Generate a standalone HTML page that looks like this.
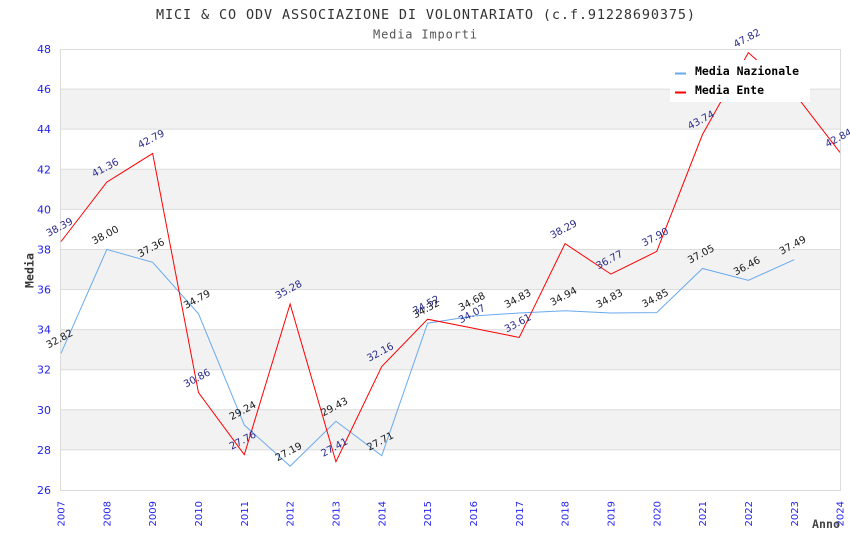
<!DOCTYPE html>
<html>
<head>
<meta charset="utf-8">
<style>
html,body{margin:0;padding:0;background:#fff;}
svg{display:block;}
.tk{font-family:"DejaVu Sans","Liberation Sans",sans-serif;font-size:11px;fill:#2323ee;}
.xk{font-family:"DejaVu Sans","Liberation Sans",sans-serif;font-size:10px;fill:#2323ee;}
.lb{font-family:"DejaVu Sans","Liberation Sans",sans-serif;font-size:10px;fill:#1a1a1a;}
.lr{font-family:"DejaVu Sans","Liberation Sans",sans-serif;font-size:10px;fill:#2a2a8c;}
.mono{font-family:"DejaVu Sans Mono","Liberation Mono",monospace;}
</style>
</head>
<body>
<svg width="850" height="550" viewBox="0 0 850 550" xmlns="http://www.w3.org/2000/svg">
<rect x="0" y="0" width="850" height="550" fill="#fff"/>
<!-- title -->
<text class="mono" x="156" y="19" font-size="13.5" fill="#333" textLength="539" lengthAdjust="spacing">MICI &amp; CO ODV ASSOCIAZIONE DI VOLONTARIATO (c.f.91228690375)</text>
<text class="mono" x="373" y="38.5" font-size="12" fill="#555" textLength="104" lengthAdjust="spacing">Media Importi</text>

<!-- bands -->
<g fill="#f2f2f2">
<rect x="61" y="89.09" width="779" height="40.09"/>
<rect x="61" y="169.27" width="779" height="40.09"/>
<rect x="61" y="249.45" width="779" height="40.09"/>
<rect x="61" y="329.63" width="779" height="40.09"/>
<rect x="61" y="409.81" width="779" height="40.09"/>
</g>
<!-- grid -->
<g stroke="#dcdcdc" stroke-width="1">
<line x1="61" y1="49.5" x2="840" y2="49.5"/>
<line x1="61" y1="89.09" x2="840" y2="89.09"/>
<line x1="61" y1="129.18" x2="840" y2="129.18"/>
<line x1="61" y1="169.27" x2="840" y2="169.27"/>
<line x1="61" y1="209.36" x2="840" y2="209.36"/>
<line x1="61" y1="249.45" x2="840" y2="249.45"/>
<line x1="61" y1="289.54" x2="840" y2="289.54"/>
<line x1="61" y1="329.63" x2="840" y2="329.63"/>
<line x1="61" y1="369.72" x2="840" y2="369.72"/>
<line x1="61" y1="409.81" x2="840" y2="409.81"/>
<line x1="61" y1="449.9" x2="840" y2="449.9"/>
<line x1="61" y1="490.5" x2="840" y2="490.5"/>
<line x1="60.5" y1="49" x2="60.5" y2="491"/>
<line x1="840.5" y1="49" x2="840.5" y2="491"/>
</g>

<!-- y ticks -->
<g class="tk" text-anchor="end">
<text x="51" y="53">48</text>
<text x="51" y="93.1">46</text>
<text x="51" y="133.2">44</text>
<text x="51" y="173.3">42</text>
<text x="51" y="213.4">40</text>
<text x="51" y="253.5">38</text>
<text x="51" y="293.5">36</text>
<text x="51" y="333.6">34</text>
<text x="51" y="373.7">32</text>
<text x="51" y="413.8">30</text>
<text x="51" y="453.9">28</text>
<text x="51" y="494">26</text>
</g>
<!-- x ticks -->
<g class="xk" text-anchor="end">
<text transform="translate(64.6,501) rotate(-90)">2007</text>
<text transform="translate(110.4,501) rotate(-90)">2008</text>
<text transform="translate(156.2,501) rotate(-90)">2009</text>
<text transform="translate(202.1,501) rotate(-90)">2010</text>
<text transform="translate(247.9,501) rotate(-90)">2011</text>
<text transform="translate(293.7,501) rotate(-90)">2012</text>
<text transform="translate(339.5,501) rotate(-90)">2013</text>
<text transform="translate(385.4,501) rotate(-90)">2014</text>
<text transform="translate(431.2,501) rotate(-90)">2015</text>
<text transform="translate(477,501) rotate(-90)">2016</text>
<text transform="translate(522.8,501) rotate(-90)">2017</text>
<text transform="translate(568.7,501) rotate(-90)">2018</text>
<text transform="translate(614.5,501) rotate(-90)">2019</text>
<text transform="translate(660.3,501) rotate(-90)">2020</text>
<text transform="translate(706.1,501) rotate(-90)">2021</text>
<text transform="translate(752,501) rotate(-90)">2022</text>
<text transform="translate(797.8,501) rotate(-90)">2023</text>
<text transform="translate(843.6,501) rotate(-90)">2024</text>
</g>

<!-- axis titles -->
<text class="mono" transform="translate(33.5,288) rotate(-90)" font-size="11.5" font-weight="bold" fill="#333" textLength="35" lengthAdjust="spacing">Media</text>
<text class="mono" x="812" y="528" font-size="11.5" font-weight="bold" fill="#444" textLength="28" lengthAdjust="spacing">Anno</text>

<!-- blue series -->
<polyline fill="none" stroke="#6aaaee" stroke-width="1" points="61,353.28 106.82,249.45 152.65,262.28 198.47,313.79 244.29,425.04 290.12,466.14 335.94,421.24 381.76,455.71 427.59,323.22 473.41,316 519.24,312.99 565.06,310.79 610.88,312.99 656.71,312.59 702.53,268.49 748.35,280.32 794.18,259.67"/>
<!-- red series -->
<polyline fill="none" stroke="#ff0000" stroke-width="1" points="61,241.63 106.82,182.1 152.65,153.43 198.47,392.57 244.29,454.71 290.12,303.97 335.94,461.73 381.76,366.51 427.59,319.21 473.41,328.23 519.24,337.45 565.06,243.64 610.88,274.11 656.71,251.45 702.53,134.39 748.35,52.61 794.18,93.1 840,152.43"/>

<!-- blue labels -->
<g class="lb" text-anchor="middle">
<text transform="translate(61,341.78) rotate(-28)">32.82</text>
<text transform="translate(106.82,237.95) rotate(-28)">38.00</text>
<text transform="translate(152.65,250.78) rotate(-28)">37.36</text>
<text transform="translate(198.47,302.29) rotate(-28)">34.79</text>
<text transform="translate(244.29,413.54) rotate(-28)">29.24</text>
<text transform="translate(290.12,454.64) rotate(-28)">27.19</text>
<text transform="translate(335.94,409.74) rotate(-28)">29.43</text>
<text transform="translate(381.76,444.21) rotate(-28)">27.71</text>
<text transform="translate(427.59,311.72) rotate(-28)">34.32</text>
<text transform="translate(473.41,304.5) rotate(-28)">34.68</text>
<text transform="translate(519.24,301.49) rotate(-28)">34.83</text>
<text transform="translate(565.06,299.29) rotate(-28)">34.94</text>
<text transform="translate(610.88,301.49) rotate(-28)">34.83</text>
<text transform="translate(656.71,301.09) rotate(-28)">34.85</text>
<text transform="translate(702.53,256.99) rotate(-28)">37.05</text>
<text transform="translate(748.35,268.82) rotate(-28)">36.46</text>
<text transform="translate(794.18,248.17) rotate(-28)">37.49</text>
</g>
<!-- red labels -->
<g class="lr" text-anchor="middle">
<text transform="translate(61,230.13) rotate(-28)">38.39</text>
<text transform="translate(106.82,170.6) rotate(-28)">41.36</text>
<text transform="translate(152.65,141.93) rotate(-28)">42.79</text>
<text transform="translate(198.47,381.07) rotate(-28)">30.86</text>
<text transform="translate(244.29,443.21) rotate(-28)">27.76</text>
<text transform="translate(290.12,292.47) rotate(-28)">35.28</text>
<text transform="translate(335.94,450.23) rotate(-28)">27.41</text>
<text transform="translate(381.76,355.01) rotate(-28)">32.16</text>
<text transform="translate(427.59,307.71) rotate(-28)">34.52</text>
<text transform="translate(473.41,316.73) rotate(-28)">34.07</text>
<text transform="translate(519.24,325.95) rotate(-28)">33.61</text>
<text transform="translate(565.06,232.14) rotate(-28)">38.29</text>
<text transform="translate(610.88,262.61) rotate(-28)">36.77</text>
<text transform="translate(656.71,239.95) rotate(-28)">37.90</text>
<text transform="translate(702.53,122.89) rotate(-28)">43.74</text>
<text transform="translate(748.35,41.11) rotate(-28)">47.82</text>
<text transform="translate(794.18,81.6) rotate(-28)">45.82</text>
<text transform="translate(840,140.93) rotate(-28)">42.84</text>
</g>

<!-- legend -->
<rect x="670" y="60" width="140" height="42" fill="#fff"/>
<rect x="675" y="72.5" width="11" height="2" fill="#6aaaee"/>
<rect x="675" y="91.5" width="11" height="2" fill="#ff0000"/>
<text class="mono" x="695" y="75" font-size="11.5" font-weight="bold" fill="#000" textLength="104" lengthAdjust="spacing">Media Nazionale</text>
<text class="mono" x="695" y="94" font-size="11.5" font-weight="bold" fill="#000" textLength="69" lengthAdjust="spacing">Media Ente</text>
</svg>
</body>
</html>
